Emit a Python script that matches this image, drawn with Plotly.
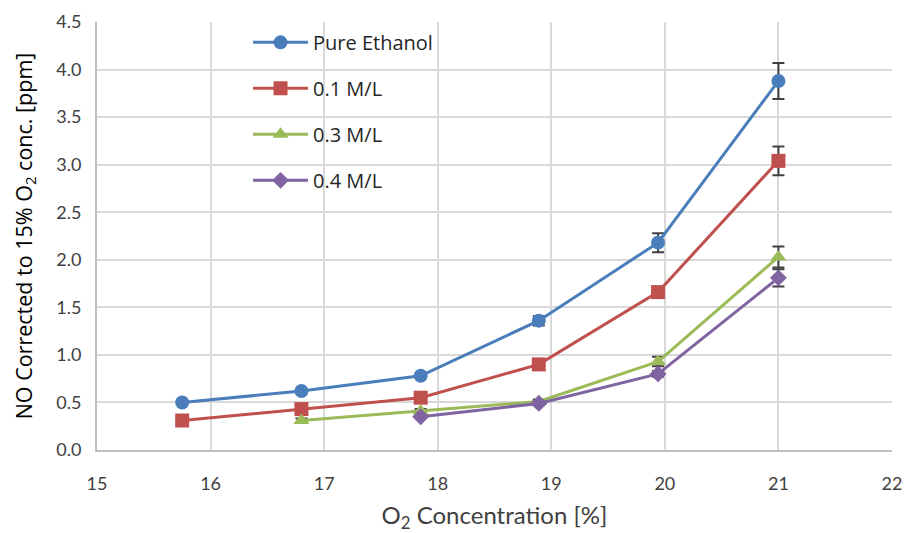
import plotly.graph_objects as go

# O2 concentration [%] and NO corrected to 15% O2 [ppm]
x_pure = [15.75, 16.80, 17.85, 18.89, 19.94, 21.00]
y_pure = [0.50, 0.62, 0.78, 1.36, 2.18, 3.88]
e_pure = [0.00, 0.00, 0.00, 0.05, 0.10, 0.19]

x_01 = [15.75, 16.80, 17.85, 18.89, 19.94, 21.00]
y_01 = [0.31, 0.43, 0.55, 0.90, 1.66, 3.04]
e_01 = [0.00, 0.00, 0.00, 0.03, 0.05, 0.15]

x_03 = [16.80, 17.85, 18.89, 19.94, 21.00]
y_03 = [0.31, 0.41, 0.51, 0.93, 2.03]
e_03 = [0.02, 0.02, 0.02, 0.05, 0.11]

x_04 = [17.85, 18.89, 19.94, 21.00]
y_04 = [0.35, 0.49, 0.80, 1.81]
e_04 = [0.00, 0.02, 0.03, 0.09]

names = ["Pure Ethanol", "0.1 M/L", "0.3 M/L", "0.4 M/L"]
colors = ["#4A7EBB", "#C0504D", "#9BBB59", "#8064A2"]
symbols = ["circle", "square", "triangle-up", "diamond"]
sizes = [14, 14, 14, 13]

series = [(x_pure, y_pure, e_pure), (x_01, y_01, e_01),
          (x_03, y_03, e_03), (x_04, y_04, e_04)]

fig = go.Figure()
for i, (xs, ys, es) in enumerate(series):
    fig.add_trace(go.Scatter(
        x=xs, y=ys, name=names[i], mode="lines+markers",
        legendgroup=names[i],
        line=dict(color=colors[i], width=3),
        marker=dict(symbol=symbols[i], size=sizes[i], color=colors[i]),
        error_y=dict(type="data", array=es, visible=True,
                     color="#404040", thickness=2, width=6),
    ))

tick_font = dict(family="Lato, Carlito, sans-serif", size=18, color="#404040")

fig.update_layout(
    width=909, height=533,
    margin=dict(l=97, r=17, t=22, b=83),
    paper_bgcolor="white", plot_bgcolor="white",
    showlegend=True,
    legend=dict(x=0.19, y=0.998, xanchor="left", yanchor="top",
                font=dict(family="Open Sans, sans-serif", size=20, color="#262626"),
                bgcolor="rgba(0,0,0,0)", itemwidth=55,
                tracegroupgap=17),
    xaxis=dict(range=[15, 22], dtick=1, tick0=15, automargin=False,
               showgrid=True, gridcolor="#D9D9D9", gridwidth=2,
               showline=True, linecolor="#BFBFBF", linewidth=2,
               zeroline=False, ticks="outside", ticklen=16,
               tickcolor="rgba(0,0,0,0)", tickfont=tick_font,
               title=dict(text="O<sub>2</sub> Concentration [%]",
                          font=dict(family="Lato, Carlito, sans-serif", size=24, color="#404040"),
                          standoff=22)),
    yaxis=dict(range=[0, 4.5], dtick=0.5, tickformat=".1f", automargin=False,
               showgrid=True, gridcolor="#D9D9D9", gridwidth=2,
               showline=True, linecolor="#BFBFBF", linewidth=2,
               zeroline=False, ticks="outside", ticklen=10,
               tickcolor="rgba(0,0,0,0)", tickfont=tick_font,
               title=dict(text="NO Corrected to 15% O<sub>2</sub> conc. [ppm]",
                          font=dict(family="Open Sans, sans-serif", size=21.5, color="#000000"),
                          standoff=18)),
)

fig.write_html("out.html")
